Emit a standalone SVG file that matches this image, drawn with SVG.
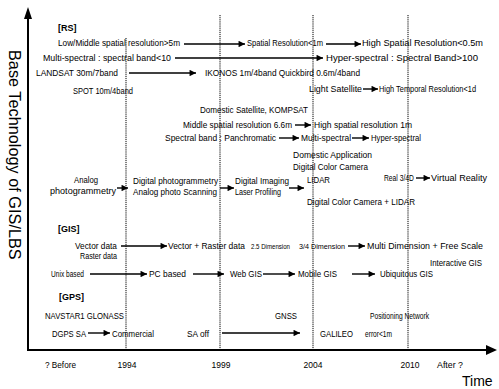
<svg xmlns="http://www.w3.org/2000/svg" width="499" height="389" viewBox="0 0 499 389">
<style>
text { font-family: "Liberation Sans", Arial, sans-serif; fill: #000; }
.t { font-size: 9px; }
.s { font-size: 8px; }
.h { font-size: 9px; font-weight: bold; }
.yr { font-size: 8.5px; }
.ax { font-size: 16.3px; }
.tm { font-size: 14px; }
.grid { stroke: #000; stroke-width: 1; stroke-dasharray: 1.2 0.9; fill: none; }
.axis { stroke: #000; stroke-width: 2; fill: none; }
.arr { stroke: #000; stroke-width: 1.4; fill: none; marker-end: url(#ah); }
</style>
<defs>
<marker id="ah" viewBox="0 0 10 10" refX="10" refY="5" markerWidth="5" markerHeight="4.6" orient="auto" markerUnits="strokeWidth">
<path d="M0,0 L10,5 L0,10 z" fill="#000"/>
</marker>
</defs>
<rect width="499" height="389" fill="#fff"/>

<g id="axes">
<line class="axis" x1="28" y1="351" x2="28" y2="16"/>
<polygon points="28,7 24,19 32,19" fill="#000"/>
<line class="axis" x1="27" y1="350" x2="488" y2="350"/>
<polygon points="497,350 486,345 486,355" fill="#000"/>
<line class="grid" x1="126" y1="38" x2="126" y2="350"/>
<line class="grid" x1="220" y1="15" x2="220" y2="350"/>
<line class="grid" x1="313" y1="15" x2="313" y2="350"/>
<line class="grid" x1="408" y1="15" x2="408" y2="350"/>
</g>

<g id="axis-labels">
<text class="ax" transform="translate(9,50) rotate(90)">Base Technology of GIS/LBS</text>
<text class="tm" x="462" y="386">Time</text>
<text class="yr" x="45" y="368" textLength="31" lengthAdjust="spacingAndGlyphs">? Before</text>
<text class="yr" x="127" y="368" text-anchor="middle">1994</text>
<text class="yr" x="221" y="368" text-anchor="middle">1999</text>
<text class="yr" x="313" y="368" text-anchor="middle">2004</text>
<text class="yr" x="410" y="368" text-anchor="middle">2010</text>
<text class="yr" x="437" y="368" textLength="26" lengthAdjust="spacingAndGlyphs">After ?</text>
</g>

<g id="connectors">
<line class="arr" x1="184" y1="44" x2="245" y2="44"/>
<line class="arr" x1="326" y1="44" x2="361" y2="44"/>
<line class="arr" x1="175" y1="58" x2="323" y2="58"/>
<line class="arr" x1="129" y1="73" x2="196" y2="73"/>
<line class="arr" x1="363" y1="89" x2="378" y2="89"/>
<line class="arr" x1="295" y1="125" x2="311" y2="125"/>
<line class="arr" x1="279" y1="138" x2="299" y2="138"/>
<line class="arr" x1="352" y1="138" x2="369" y2="138"/>
<line class="arr" x1="117" y1="188" x2="128" y2="188"/>
<line class="arr" x1="220" y1="188" x2="234" y2="188"/>
<line class="arr" x1="289" y1="188" x2="304" y2="188"/>
<line class="arr" x1="416" y1="178" x2="430" y2="178"/>
<line class="arr" x1="121" y1="246" x2="167" y2="246"/>
<line class="arr" x1="348" y1="246" x2="365" y2="246"/>
<line class="arr" x1="90" y1="274" x2="147" y2="274"/>
<line class="arr" x1="193" y1="274" x2="224" y2="274"/>
<line class="arr" x1="263" y1="274" x2="295" y2="274"/>
<line class="arr" x1="352" y1="274" x2="375" y2="274"/>
<line class="arr" x1="88" y1="333" x2="110" y2="333"/>
<line class="arr" x1="222" y1="333" x2="300" y2="333"/>
</g>

<g id="rs-header"><text class="h" x="58" y="31">[RS]</text></g>
<g id="n-lowmid"><text class="t" x="58" y="46" textLength="122" lengthAdjust="spacingAndGlyphs">Low/Middle spatial resolution&gt;5m</text></g>
<g id="n-sr1m"><text class="t" x="247" y="46" textLength="76" lengthAdjust="spacingAndGlyphs">Spatial Resolution&lt;1m</text></g>
<g id="n-hsr"><text class="t" x="362" y="46" textLength="121" lengthAdjust="spacingAndGlyphs">High Spatial Resolution&lt;0.5m</text></g>
<g id="n-ms"><text class="t" x="43" y="61" textLength="128" lengthAdjust="spacingAndGlyphs">Multi-spectral : spectral band&lt;10</text></g>
<g id="n-hs"><text class="t" x="326" y="61" textLength="152" lengthAdjust="spacingAndGlyphs">Hyper-spectral : Spectral Band&gt;100</text></g>
<g id="n-landsat"><text class="t" x="36" y="76" textLength="82" lengthAdjust="spacingAndGlyphs">LANDSAT 30m/7band</text></g>
<g id="n-ikonos"><text class="t" x="205" y="76" textLength="155" lengthAdjust="spacingAndGlyphs">IKONOS 1m/4band Quickbird 0.6m/4band</text></g>
<g id="n-spot"><text class="t" x="73" y="94" textLength="60" lengthAdjust="spacingAndGlyphs">SPOT 10m/4band</text></g>
<g id="n-light"><text class="t" x="309" y="92" textLength="53" lengthAdjust="spacingAndGlyphs">Light Satellite</text></g>
<g id="n-htr"><text class="t" x="379" y="92" textLength="97" lengthAdjust="spacingAndGlyphs">High Temporal Resolution&lt;1d</text></g>
<g id="n-kompsat"><text class="t" x="200" y="113" textLength="108" lengthAdjust="spacingAndGlyphs">Domestic Satellite, KOMPSAT</text></g>
<g id="n-mid66"><text class="t" x="183" y="128" textLength="109" lengthAdjust="spacingAndGlyphs">Middle spatial resolution 6.6m</text></g>
<g id="n-high1m"><text class="t" x="314" y="128" textLength="98" lengthAdjust="spacingAndGlyphs">High spatial resolution 1m</text></g>
<g id="n-pan"><text class="t" x="165" y="141" textLength="111" lengthAdjust="spacingAndGlyphs">Spectral band : Panchromatic</text></g>
<g id="n-multi"><text class="t" x="301" y="141" textLength="50" lengthAdjust="spacingAndGlyphs">Multi-spectral</text></g>
<g id="n-hyper"><text class="t" x="371" y="141" textLength="50" lengthAdjust="spacingAndGlyphs">Hyper-spectral</text></g>
<g id="n-domapp">
<text class="t" x="293" y="158" textLength="79" lengthAdjust="spacingAndGlyphs">Domestic Application</text>
<text class="t" x="293" y="170" textLength="75" lengthAdjust="spacingAndGlyphs">Digital Color Camera</text>
</g>
<g id="n-analog">
<text class="t" x="74" y="183" textLength="24" lengthAdjust="spacingAndGlyphs">Analog</text>
<text class="t" x="50" y="194" textLength="66" lengthAdjust="spacingAndGlyphs">photogrammetry</text>
</g>
<g id="n-digphoto">
<text class="t" x="133" y="184" textLength="85" lengthAdjust="spacingAndGlyphs">Digital photogrammetry</text>
<text class="t" x="133" y="195" textLength="84" lengthAdjust="spacingAndGlyphs">Analog photo Scanning</text>
</g>
<g id="n-digimg">
<text class="t" x="235" y="184" textLength="54" lengthAdjust="spacingAndGlyphs">Digital Imaging</text>
<text class="t" x="235" y="195" textLength="46" lengthAdjust="spacingAndGlyphs">Laser Profiling</text>
</g>
<g id="n-lidar"><text class="t" x="307" y="183" textLength="23" lengthAdjust="spacingAndGlyphs">LIDAR</text></g>
<g id="n-real"><text class="t" x="384" y="181" textLength="30" lengthAdjust="spacingAndGlyphs">Real 3/4D</text></g>
<g id="n-vr-reality"><text class="t" x="431" y="181" textLength="56" lengthAdjust="spacingAndGlyphs">Virtual Reality</text></g>
<g id="n-dcc-lidar"><text class="t" x="307" y="205" textLength="108" lengthAdjust="spacingAndGlyphs">Digital Color Camera + LIDAR</text></g>

<g id="gis-header"><text class="h" x="58" y="232">[GIS]</text></g>
<g id="n-vecras">
<text class="t" x="75" y="249" textLength="42" lengthAdjust="spacingAndGlyphs">Vector data</text>
<text class="t" x="80" y="259" textLength="37" lengthAdjust="spacingAndGlyphs">Raster data</text>
</g>
<g id="n-vr"><text class="t" x="168" y="249" textLength="77" lengthAdjust="spacingAndGlyphs">Vector + Raster data</text></g>
<g id="n-25d"><text class="s" x="251" y="249" textLength="39" lengthAdjust="spacingAndGlyphs">2.5 Dimension</text></g>
<g id="n-34d"><text class="s" x="299" y="249" textLength="46" lengthAdjust="spacingAndGlyphs">3/4 Dimension</text></g>
<g id="n-multid"><text class="t" x="367" y="249" textLength="116" lengthAdjust="spacingAndGlyphs">Multi Dimension + Free Scale</text></g>
<g id="n-interactive"><text class="t" x="430" y="266" textLength="52" lengthAdjust="spacingAndGlyphs">Interactive GIS</text></g>
<g id="n-unix"><text class="t" x="51" y="277" textLength="33" lengthAdjust="spacingAndGlyphs">Unix based</text></g>
<g id="n-pc"><text class="t" x="149" y="277" textLength="37" lengthAdjust="spacingAndGlyphs">PC based</text></g>
<g id="n-web"><text class="t" x="230" y="277" textLength="32" lengthAdjust="spacingAndGlyphs">Web GIS</text></g>
<g id="n-mobile"><text class="t" x="298" y="277" textLength="39" lengthAdjust="spacingAndGlyphs">Mobile GIS</text></g>
<g id="n-ubi"><text class="t" x="380" y="277" textLength="53" lengthAdjust="spacingAndGlyphs">Ubiquitous GIS</text></g>

<g id="gps-header"><text class="h" x="59" y="300">[GPS]</text></g>
<g id="n-navstar"><text class="t" x="45" y="319" textLength="79" lengthAdjust="spacingAndGlyphs">NAVSTAR1 GLONASS</text></g>
<g id="n-gnss"><text class="t" x="275" y="319" textLength="22" lengthAdjust="spacingAndGlyphs">GNSS</text></g>
<g id="n-posnet"><text class="t" x="370" y="319" textLength="59" lengthAdjust="spacingAndGlyphs">Positioning Network</text></g>
<g id="n-dgps"><text class="t" x="52" y="337" textLength="34" lengthAdjust="spacingAndGlyphs">DGPS SA</text></g>
<g id="n-comm"><text class="t" x="112" y="337" textLength="42" lengthAdjust="spacingAndGlyphs">Commercial</text></g>
<g id="n-saoff"><text class="t" x="187" y="337" textLength="22" lengthAdjust="spacingAndGlyphs">SA off</text></g>
<g id="n-galileo"><text class="t" x="320" y="337" textLength="33" lengthAdjust="spacingAndGlyphs">GALILEO</text></g>
<g id="n-err"><text class="t" x="365" y="337" textLength="27" lengthAdjust="spacingAndGlyphs">error&lt;1m</text></g>
</svg>
